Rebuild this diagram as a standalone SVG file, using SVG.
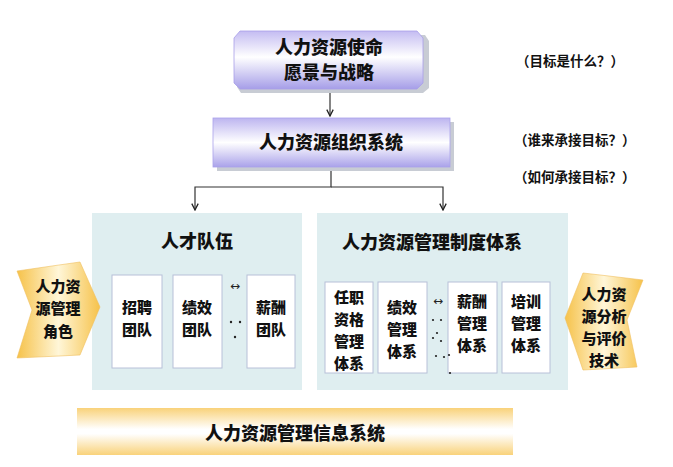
<svg xmlns="http://www.w3.org/2000/svg" width="673" height="467" viewBox="0 0 673 467">
<defs>
<linearGradient id="gPurple" x1="0" y1="0" x2="0" y2="1">
<stop offset="0" stop-color="#c4bcf2"/>
<stop offset="0.45" stop-color="#ffffff"/>
<stop offset="1" stop-color="#a69ee8"/>
</linearGradient>
<linearGradient id="gPurple2" x1="0" y1="0" x2="0" y2="1">
<stop offset="0" stop-color="#bdb5f0"/>
<stop offset="0.5" stop-color="#ffffff"/>
<stop offset="1" stop-color="#aaa2ea"/>
</linearGradient>
<linearGradient id="gYellowH" x1="0" y1="0" x2="1" y2="0">
<stop offset="0" stop-color="#f6c24a"/>
<stop offset="0.5" stop-color="#fff6d8"/>
<stop offset="1" stop-color="#f6c24a"/>
</linearGradient>
<linearGradient id="gBar" x1="0" y1="0" x2="0" y2="1">
<stop offset="0" stop-color="#f9d27a"/>
<stop offset="0.45" stop-color="#ffffff"/>
<stop offset="0.55" stop-color="#ffffff"/>
<stop offset="1" stop-color="#f9d27a"/>
</linearGradient>
<marker id="arr" viewBox="0 0 10 10" refX="9" refY="5" markerWidth="8" markerHeight="8" orient="auto" markerUnits="userSpaceOnUse">
<path d="M1,1 L9,5 L1,9" fill="none" stroke="#222" stroke-width="1.6"/>
</marker>
</defs>
<style>
.t{font-family:"Noto Sans CJK SC",sans-serif;font-weight:900;fill:#111;text-anchor:middle;}
.big{font-size:18px;}
.mid{font-size:15px;}
.q{font-family:"Noto Sans CJK SC",sans-serif;font-weight:700;font-size:13.5px;fill:#111;}
.panel{fill:#dfeef0;}
.card{fill:#ffffff;stroke:#b8c0d8;stroke-width:1;}
.shadow{fill:#c8ccd4;}
.ln{fill:none;stroke:#333;stroke-width:1.2;}
.dot{fill:#222;}
</style>
<rect width="673" height="467" fill="#ffffff"/>

<g id="connectors">
<path class="ln" d="M330,89 V116" marker-end="url(#arr)"/>
<path class="ln" d="M331,168 V187 H195 V210" marker-end="url(#arr)"/>
<path class="ln" d="M331,187 H443 V210" marker-end="url(#arr)"/>
</g>

<g id="mission">
<polygon class="shadow" points="243,35 425,35 429,41 429,88 423,93 241,93 237,87 237,41"/>
<polygon fill="url(#gPurple)" stroke="#a8a0e8" stroke-width="0.8" points="240,31 417,31 423,38 423,83 417,89 240,89 234,83 234,38"/>
<text class="t big" x="329" y="54">人力资源使命</text>
<text class="t big" x="329" y="79">愿景与战略</text>
</g>

<g id="org">
<rect class="shadow" x="217" y="122" width="237" height="49"/>
<rect x="213" y="118" width="237" height="49" fill="url(#gPurple2)" stroke="#aaa2ea" stroke-width="0.8"/>
<text class="t big" x="331" y="149">人力资源组织系统</text>
</g>

<g id="q1"><text class="q" x="516" y="66">（目标是什么？）</text></g>
<g id="q2"><text class="q" x="514" y="145">（谁来承接目标？）</text></g>
<g id="q3"><text class="q" x="514" y="182">（如何承接目标？）</text></g>

<g id="talent">
<rect class="panel" x="92" y="213" width="210" height="177"/>
<text class="t big" x="197" y="248">人才队伍</text>
</g>
<g id="recruit">
<rect class="card" x="112" y="275" width="50" height="93"/>
<text class="t mid" x="137" y="313">招聘</text>
<text class="t mid" x="137" y="335">团队</text>
</g>
<g id="perfteam">
<rect class="card" x="173" y="275" width="49" height="93"/>
<text class="t mid" x="197" y="313">绩效</text>
<text class="t mid" x="197" y="335">团队</text>
</g>
<g id="payteam">
<rect class="card" x="247" y="275" width="48" height="93"/>
<text class="t mid" x="271" y="313">薪酬</text>
<text class="t mid" x="271" y="335">团队</text>
</g>
<g id="talent-sep">
<text x="235" y="290" font-family="DejaVu Sans,sans-serif" font-size="12" text-anchor="middle" fill="#222">↔</text>
<circle class="dot" cx="231" cy="322" r="1.2"/>
<circle class="dot" cx="240" cy="322" r="1.2"/>
<circle class="dot" cx="235" cy="337" r="1.2"/>
</g>

<g id="system">
<rect class="panel" x="317" y="213" width="251" height="177"/>
<text class="t big" x="432" y="249">人力资源管理制度体系</text>
</g>
<g id="qual">
<rect class="card" x="325" y="282" width="48" height="91"/>
<text class="t mid" x="349" y="303">任职</text>
<text class="t mid" x="349" y="325">资格</text>
<text class="t mid" x="349" y="347">管理</text>
<text class="t mid" x="349" y="369">体系</text>
</g>
<g id="perfsys">
<rect class="card" x="378" y="282" width="49" height="91"/>
<text class="t mid" x="402" y="313">绩效</text>
<text class="t mid" x="402" y="335">管理</text>
<text class="t mid" x="402" y="357">体系</text>
</g>
<g id="paysys">
<rect class="card" x="448" y="282" width="49" height="91"/>
<text class="t mid" x="472" y="307">薪酬</text>
<text class="t mid" x="472" y="329">管理</text>
<text class="t mid" x="472" y="351">体系</text>
</g>
<g id="trainsys">
<rect class="card" x="502" y="282" width="48" height="91"/>
<text class="t mid" x="526" y="307">培训</text>
<text class="t mid" x="526" y="329">管理</text>
<text class="t mid" x="526" y="351">体系</text>
</g>
<g id="system-sep">
<text x="438" y="305" font-family="DejaVu Sans,sans-serif" font-size="12" text-anchor="middle" fill="#222">↔</text>
<circle class="dot" cx="433" cy="320" r="1.1"/>
<circle class="dot" cx="441" cy="320" r="1.1"/>
<circle class="dot" cx="433" cy="338" r="1.1"/>
<circle class="dot" cx="437" cy="333" r="1.1"/>
<circle class="dot" cx="441" cy="341" r="1.1"/>
<circle class="dot" cx="436" cy="356" r="1.1"/>
<circle class="dot" cx="444" cy="357" r="1.1"/>
<circle class="dot" cx="449" cy="355" r="1.1"/>
<circle class="dot" cx="450" cy="373" r="1.1"/>
</g>

<g id="role">
<polygon fill="url(#gYellowH)" stroke="#f0c060" stroke-width="0.6" points="17,271 80,262 100,307 80,355 17,358 32,310"/>
<text class="t mid" x="58" y="292">人力资</text>
<text class="t mid" x="58" y="314">源管理</text>
<text class="t mid" x="58" y="337">角色</text>
</g>

<g id="analysis">
<polygon fill="url(#gYellowH)" stroke="#f0c060" stroke-width="0.6" points="583,273 643,280 627,320 637,367 583,370 565,318"/>
<text class="t mid" x="604" y="300">人力资</text>
<text class="t mid" x="604" y="322">源分析</text>
<text class="t mid" x="604" y="344">与评价</text>
<text class="t mid" x="604" y="366">技术</text>
</g>

<g id="hris">
<rect x="77" y="408" width="436" height="47" fill="url(#gBar)"/>
<text class="t big" x="295" y="440">人力资源管理信息系统</text>
</g>
</svg>
